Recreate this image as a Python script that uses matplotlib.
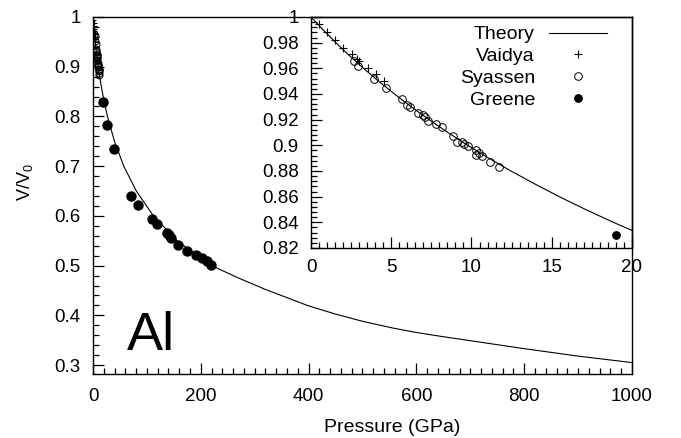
import matplotlib
matplotlib.use('Agg')
import matplotlib.pyplot as plt

plt.rcParams['font.family'] = 'Liberation Sans'
plt.rcParams['mathtext.fontset'] = 'custom'
plt.rcParams['mathtext.rm'] = 'Liberation Sans'

# theory curve (pressure in GPa, V/V0)
theory_p = [0, 0.751, 1.545, 2.384, 3.272, 4.21, 5.202, 6.251, 7.358, 8.53, 9.765,
            11.08, 12.46, 13.93, 15.47, 17.11, 18.84, 20.68, 26.8, 39.8, 57, 80.4,
            112, 156, 220, 270, 320, 400, 450, 500, 556, 600, 644, 700, 800, 900, 1000]
theory_v = [1.0, 0.99, 0.98, 0.97, 0.96, 0.95, 0.94, 0.93, 0.92, 0.91, 0.90,
            0.89, 0.88, 0.87, 0.86, 0.85, 0.84, 0.83, 0.80, 0.75, 0.70, 0.65,
            0.60, 0.55, 0.50, 0.475, 0.452, 0.419, 0.4025, 0.388, 0.3745, 0.3655,
            0.358, 0.349, 0.333, 0.318, 0.305]

vaidya_p = [0.52, 1.02, 1.5, 1.97, 2.53, 2.85, 3.0, 3.53, 4.05, 4.57]
vaidya_v = [0.9945, 0.988, 0.982, 0.976, 0.971, 0.967, 0.9657, 0.9605, 0.9556, 0.950]

syassen_p = [2.70, 2.91, 3.93, 4.65, 5.65, 5.96, 6.17, 6.69, 6.96, 7.1, 7.27, 7.77,
             8.14, 8.87, 9.08, 9.39, 9.53, 9.80, 10.28, 10.28, 10.47, 10.67, 11.15, 11.71]
syassen_v = [0.9657, 0.962, 0.952, 0.945, 0.936, 0.9314, 0.930, 0.925, 0.924, 0.922,
             0.919, 0.9166, 0.914, 0.9075, 0.9028, 0.9028, 0.901, 0.8997, 0.8963,
             0.8924, 0.8937, 0.892, 0.8872, 0.8833]

greene_p = [19, 26, 39, 71, 83.5, 109.5, 119, 137, 141, 144, 158, 175, 190.5, 203, 211, 219.5]
greene_v = [0.830, 0.782, 0.734, 0.641, 0.622, 0.593, 0.583, 0.566, 0.561, 0.555,
            0.542, 0.529, 0.521, 0.516, 0.509, 0.502]

main_xticks = [0, 200, 400, 600, 800, 1000]
main_yticks = [0.3, 0.4, 0.5, 0.6, 0.7, 0.8, 0.9, 1.0]
main_ylabels = ['0.3', '0.4', '0.5', '0.6', '0.7', '0.8', '0.9', '1']
inset_xticks = [0, 5, 10, 15, 20]
inset_yticks = [0.82, 0.84, 0.86, 0.88, 0.9, 0.92, 0.94, 0.96, 0.98, 1.0]
inset_ylabels = ['0.82', '0.84', '0.86', '0.88', '0.9', '0.92', '0.94', '0.96', '0.98', '1']


def style_axes(ax, xminor, yminor, pad_x, pad_y, size):
	for s in ax.spines.values():
		s.set_linewidth(1.0)
	ax.set_xticks(xminor, minor=True)
	ax.set_yticks(yminor, minor=True)
	ax.tick_params(which='both', direction='in', top=False, right=False, width=0.9)
	ax.tick_params(which='major', length=8, labelsize=size)
	ax.tick_params(which='minor', length=4)
	ax.tick_params(axis='x', pad=pad_x)
	ax.tick_params(axis='y', pad=pad_y)


fig = plt.figure(figsize=(6.81, 4.38), dpi=100)
fig.patch.set_facecolor('white')

ax = fig.add_axes([0.1366, 0.1461, 0.928 - 0.1366, 0.9612 - 0.1461])
ax.set_facecolor('none')
ax.set_zorder(2)
ax.plot(theory_p, theory_v, color='black', lw=0.8)
ax.plot(vaidya_p, vaidya_v, '+', color='black', ms=5, mew=0.8)
ax.plot(syassen_p, syassen_v, 'o', mfc='none', mec='black', ms=5, mew=0.7)
ax.plot(greene_p, greene_v, 'o', color='black', ms=6.5)
ax.set_xlim(0, 1000)
ax.set_ylim(0.282, 1.0)
ax.set_xticks(main_xticks)
ax.set_yticks(main_yticks)
ax.set_yticklabels(main_ylabels)
style_axes(ax, [x for x in range(0, 1001, 20)], [0.3 + 0.02 * i for i in range(36)], 10, 9, 13.5)
ax.set_xlabel('Pressure (GPa)', fontsize=14)
ax.xaxis.set_label_coords(0.556, -0.125)
ax.set_ylabel(r'$\mathrm{V/V_0}$', fontsize=13)
ax.yaxis.set_label_coords(-0.108, 0.538)
ax.text(0.063, 0.067, 'Al', transform=ax.transAxes, fontsize=39)

ins = fig.add_axes([0.4567, 0.4338, 0.928 - 0.4567, 0.9612 - 0.4338])
ins.set_zorder(1)
ins.plot(theory_p, theory_v, color='black', lw=0.8, label='Theory')
ins.plot(vaidya_p, vaidya_v, '+', color='black', ms=6, mew=0.8, label='Vaidya')
ins.plot(syassen_p, syassen_v, 'o', mfc='none', mec='black', ms=5.5, mew=0.7, label='Syassen')
ins.plot(greene_p, greene_v, 'o', color='black', ms=5.3, label='Greene')
ins.set_xlim(0, 20)
ins.set_ylim(0.82, 1.0)
ins.set_xticks(inset_xticks)
ins.set_yticks(inset_yticks)
ins.set_yticklabels(inset_ylabels)
style_axes(ins, [0.5 * i for i in range(41)], [0.82 + 0.004 * i for i in range(46)], 8, 9, 13.5)
ins.legend(loc='upper right', bbox_to_anchor=(0.922, 0.962), frameon=False, fontsize=14,
	markerfirst=False, handlelength=3.0, handletextpad=0.7, labelspacing=0.22,
	borderpad=0, borderaxespad=0)

fig.savefig('out.png', dpi=100)
